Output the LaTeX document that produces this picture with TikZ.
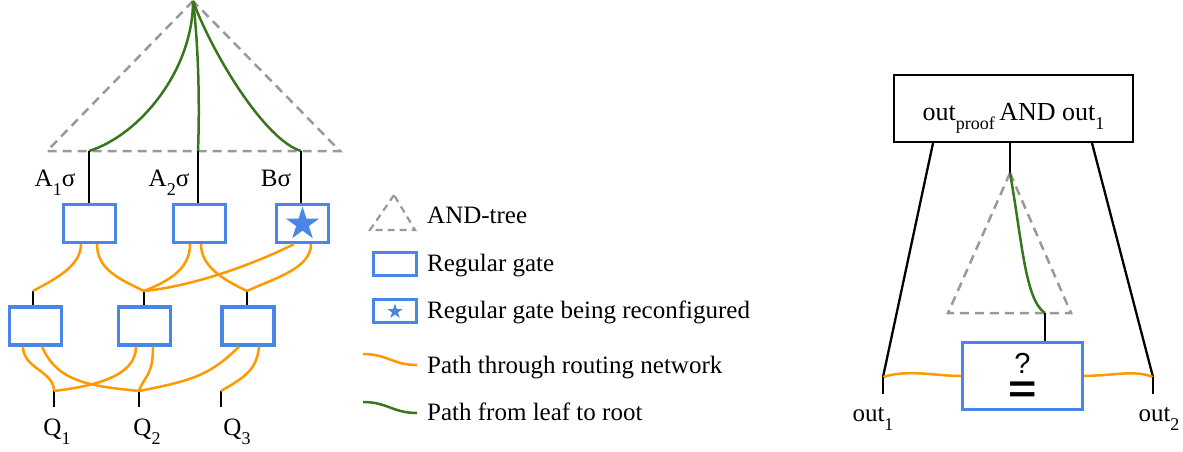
\documentclass[tikz,border=0pt]{standalone}
\usepackage{fontspec}
\setmainfont{Liberation Serif}
\newfontfamily\sansf{Liberation Sans}
\usetikzlibrary{shapes.geometric}
\definecolor{gblue}{HTML}{4A86E8}
\definecolor{gorange}{HTML}{FF9900}
\definecolor{ggreen}{HTML}{38761D}
\definecolor{ggray}{HTML}{999999}
\newcommand\sbx[1]{\raisebox{-9pt}{\fontsize{18}{18}\selectfont #1}}
\begin{document}
\begin{tikzpicture}[x=1pt,y=-1pt,
  gate/.style={draw=gblue, line width=3.2pt, minimum width=52pt, minimum height=38pt, inner sep=0pt},
  orng/.style={draw=gorange, line width=2.5pt},
  grn/.style={draw=ggreen, line width=2.5pt},
  wire/.style={draw=black, line width=2pt},
  andtree/.style={draw=ggray, line width=2.5pt, dash pattern=on 9pt off 6pt},
  lbl/.style={font=\fontsize{25}{30}\selectfont, inner sep=0pt, anchor=base},
  legtext/.style={font=\fontsize{25}{30}\selectfont, inner sep=0pt, anchor=base west},
  bigstar/.style={star, star points=5, star point ratio=2.618, fill=gblue, draw=none, inner sep=0pt, minimum size=35pt}
]
\useasboundingbox (0,0) rectangle (1183,451);

% ---------- left: AND tree ----------
\coordinate (root) at (193,1);
\coordinate (tl) at (47,151);
\coordinate (tr) at (340,151);
\draw[andtree] (root) -- (tl) -- (tr) -- cycle;
\coordinate (la) at (89,151);
\coordinate (lb) at (198,151);
\coordinate (lc) at (301,151);
\draw[grn] (la) .. controls (140,135) and (193,70) .. (root);
\draw[grn] (lb) .. controls (200,100) and (198,40) .. (root);
\draw[grn] (lc) .. controls (265,140) and (213,55) .. (root);

% top gates
\node[gate] (t1) at (89.5,223.5) {};
\node[gate] (t2) at (199.5,223.5) {};
\node[gate] (t3) at (302.5,223.5) {};
\node[bigstar] (st) at (302.5,224) {};
\draw[wire] (la) -- (la |- t1.north);
\draw[wire] (lb) -- (lb |- t2.north);
\draw[wire] (lc) -- (lc |- t3.north);
\node[lbl] (A1) at (55,186) {A\sbx{1}σ};
\node[lbl] (A2) at (169,186) {A\sbx{2}σ};
\node[lbl] (B) at (276,186) {Bσ};

% middle gates
\node[gate] (m1) at (35.5,326) {};
\node[gate] (m2) at (144.5,326) {};
\node[gate] (m3) at (248,326) {};
\coordinate (s1) at (33,291);
\coordinate (s2) at (144,291);
\coordinate (s3) at (247,291);
\draw[wire] (s1) -- (s1 |- m1.north);
\draw[wire] (s2) -- (s2 |- m2.north);
\draw[wire] (s3) -- (s3 |- m3.north);

\draw[orng] ([xshift=-8.5pt]t1.south) .. controls +(0,22) and +(22,-12) .. (s1);
\draw[orng] ([xshift=7.5pt]t1.south) .. controls +(0,25) and +(-25,-12) .. (s2);
\draw[orng] ([xshift=-9.5pt]t2.south) .. controls +(0,25) and +(25,-10) .. (s2);
\draw[orng] ([xshift=1.5pt]t2.south) .. controls +(0,22) and +(-25,-12) .. (s3);
\draw[orng] ([xshift=-8.5pt]t3.south) .. controls +(-40,20) and +(50,-5) .. (s2);
\draw[orng] ([xshift=8.5pt]t3.south) .. controls +(0,25) and +(25,-12) .. (s3);

% bottom inputs
\coordinate (q1) at (54,391);
\coordinate (q2) at (139,391);
\coordinate (q3) at (221,391);
\draw[wire] (q1) -- ++(0,16);
\draw[wire] (q2) -- ++(0,16);
\draw[wire] (q3) -- ++(0,16);
\draw[orng] ([xshift=-12.5pt]m1.south) .. controls +(0,22) and +(0,-20) .. (q1);
\draw[orng] ([xshift=6.5pt]m1.south) .. controls +(15,35) and +(-50,-5) .. (q2);
\draw[orng] ([xshift=-8.5pt]m2.south) .. controls +(0,30) and +(40,-5) .. (q1);
\draw[orng] ([xshift=8.5pt]m2.south) .. controls +(0,30) and +(5,-15) .. (q2);
\draw[orng] ([xshift=-9pt]m3.south) .. controls +(-30,30) and +(50,-10) .. (q2);
\draw[orng] ([xshift=11pt]m3.south) .. controls +(-2,25) and +(20,-12) .. (q3);
\node[lbl] (Q1) at (57,435) {Q\sbx{1}};
\node[lbl] (Q2) at (147,435) {Q\sbx{2}};
\node[lbl] (Q3) at (237,435) {Q\sbx{3}};

% ---------- legend ----------
\draw[andtree, line width=2.2pt, dash pattern=on 7pt off 5pt] (394,195) -- (370,230) -- (415,230) -- cycle;
\node[legtext] (lt1) at (427,223) {AND-tree};
\node[gate, minimum width=43pt, minimum height=23pt] (lg1) at (395,264) {};
\node[legtext] (lt2) at (427,271) {Regular gate};
\node[gate, minimum width=43pt, minimum height=23pt] (lg2) at (395,311) {};
\node[bigstar, minimum size=16pt] (lst) at (395,311.5) {};
\node[legtext] (lt3) at (427,318) {Regular gate being reconfigured};
\coordinate (lo1) at (363,354);
\coordinate (lo2) at (417,365);
\draw[orng] (lo1) .. controls +(24,0) and +(-24,0) .. (lo2);
\node[legtext] (lt4) at (427,373) {Path through routing network};
\coordinate (lg1a) at (363,402);
\coordinate (lg1b) at (417,413);
\draw[grn] (lg1a) .. controls +(24,0) and +(-24,0) .. (lg1b);
\node[legtext] (lt5) at (427,420) {Path from leaf to root};

% ---------- right part ----------
\node[draw, line width=2.2pt, minimum width=239pt, minimum height=67pt, inner sep=0pt,
      text height=25pt, text depth=2pt, font=\fontsize{26}{30}\selectfont] (top) at (1013.5,108.5)
      {out\sbx{proof}\,AND out\sbx{1}};
\coordinate (o1) at (883,377);
\coordinate (o2) at (1153,377);
\coordinate (ap) at (1010,173);
\draw[wire, line width=2.3pt] ([xshift=-80.5pt]top.south) -- (o1);
\draw[wire, line width=2.3pt] ([xshift=78.5pt]top.south) -- (o2);
\draw[wire] (ap |- top.south) -- (ap);
\draw[andtree] (ap) -- (948,313) -- (1071,313) -- cycle;
\coordinate (lf) at (1045,313);
\node[gate, minimum width=120pt, minimum height=67pt] (eq) at (1022.5,376) {};
\draw[grn] (ap) .. controls (1022,240) and (1025,300) .. (lf);
\draw[wire] (lf) -- (lf |- eq.north);
\node[inner sep=0pt, anchor=south, font=\sansf] (qeq) at (1022.5,403)
  {\shortstack{\fontsize{29}{29}\selectfont ?\\[6pt]{\bfseries\fontsize{36}{36}\selectfont\scalebox{1.35}[1.1]{=}}}};
\draw[orng] (o1) .. controls +(25,-8) and +(-25,0) .. (eq.west);
\draw[orng] (eq.east) .. controls +(35,-1) and +(-18,-7) .. (o2);
\draw[wire] (o1) -- ++(0,17);
\draw[wire] (o2) -- ++(0,17);
\node[lbl] (out1) at (873,421) {out\sbx{1}};
\node[lbl] (out2) at (1159,421) {out\sbx{2}};
\end{tikzpicture}
\end{document}
